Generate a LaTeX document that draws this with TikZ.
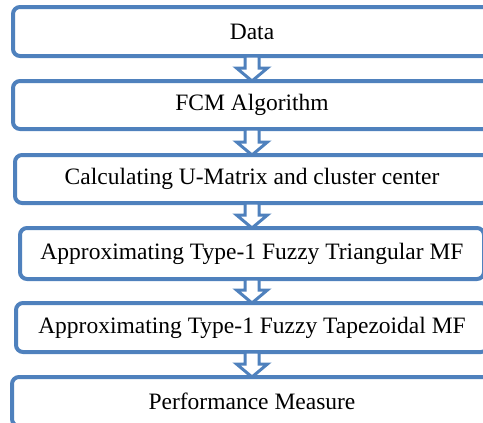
\documentclass[tikz,border=0pt]{standalone}
\usepackage{fontspec}
\setmainfont{Liberation Serif}
\usetikzlibrary{calc}
\definecolor{boxblue}{RGB}{79,129,189}

\begin{document}
\begin{tikzpicture}[x=1pt, y=-1pt,
    stage/.style={draw=boxblue, line width=4pt, rounded corners=7pt,
        fill=white, outer sep=0pt, inner sep=0pt,
        font=\fontsize{23.5}{28}\selectfont},
    hollowarrow/.style={draw=boxblue, line width=3pt, fill=white,
        line join=miter}]
\useasboundingbox (0,0) rectangle (483,423);
\clip (0,0) rectangle (483,423);
\node[stage, minimum width=478pt, minimum height=49pt] (data) at (252,31.5) {Data};
\node[stage, minimum width=478pt, minimum height=48pt] (fcm)  at (252,105) {FCM Algorithm};
\node[stage, minimum width=474pt, minimum height=48pt] (umat) at (252,179) {Calculating U-Matrix and cluster center};
\node[stage, minimum width=464pt, minimum height=51pt] (tri)  at (252,253.5) {Approximating Type-1 Fuzzy Triangular MF};
\node[stage, minimum width=472pt, minimum height=49pt] (trap) at (252,327.5) {Approximating Type-1 Fuzzy Tapezoidal MF};
\node[stage, minimum width=480pt, minimum height=49pt] (perf) at (252,401.5) {Performance Measure};
% block arrows between the stages
\foreach \a/\b in {data/fcm, fcm/umat, umat/tri, tri/trap, trap/perf}{
    \draw[hollowarrow] let \p1=(\a.south), \p2=(\b.north) in
        (\x1-7pt,\y1) -- (\x1+7pt,\y1) -- (\x1+7pt,\y2+13pt)
        -- (\x1+15.5pt,\y2+13pt) -- (\x1,\y2) -- (\x1-15.5pt,\y2+13pt)
        -- (\x1-7pt,\y2+13pt) -- cycle;
}
\end{tikzpicture}
\end{document}
